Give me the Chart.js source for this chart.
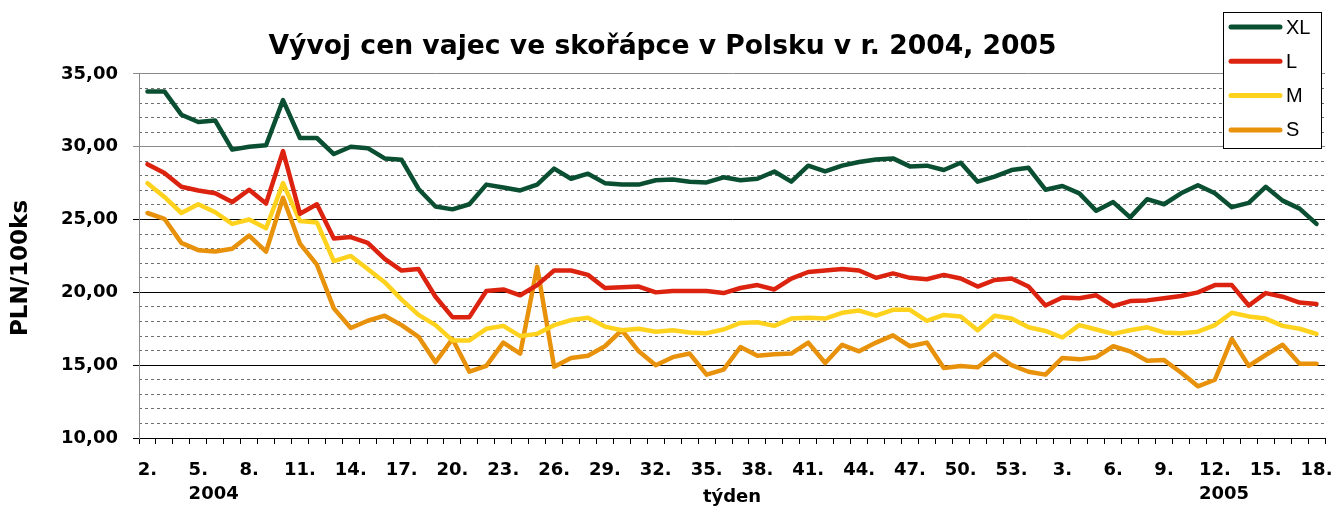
<!DOCTYPE html>
<html><head><meta charset="utf-8">
<script src="https://cdn.jsdelivr.net/npm/chart.js@4.4.0/dist/chart.umd.min.js"></script>
<style>html,body{margin:0;padding:0;background:#fff}#wrap{width:1335px;height:510px}</style>
</head><body><div id="wrap"><canvas id="c" width="1335" height="510"></canvas></div>
<script>
const weeks = ["2.","3.","4.","5.","6.","7.","8.","9.","10.","11.","12.","13.","14.","15.","16.","17.","18.","19.","20.","21.","22.","23.","24.","25.","26.","27.","28.","29.","30.","31.","32.","33.","34.","35.","36.","37.","38.","39.","40.","41.","42.","43.","44.","45.","46.","47.","48.","49.","50.","51.","52.","53.",
"1.","2.","3.","4.","5.","6.","7.","8.","9.","10.","11.","12.","13.","14.","15.","16.","17.","18."];
const yearTickIndex = [3, 63];
const yearTexts = ["2004", "2005"];
const yTickValues = [10, 15, 20, 25, 30, 35];

const seriesNames = ["XL", "L", "M", "S"];
const seriesColors = ["#0a4f31", "#dc2310", "#ffd21e", "#e8920c"];

const XL = [33.8,33.8,32.2,31.7,31.8,29.8,30.0,30.1,33.2,30.6,
30.6,29.5,30.0,29.9,29.2,29.1,27.1,25.9,25.7,26.05,
27.4,27.2,27.0,27.4,28.5,27.8,28.15,27.5,27.4,27.4,
27.7,27.75,27.6,27.55,27.9,27.7,27.8,28.3,27.6,28.7,
28.3,28.7,28.95,29.13,29.2,28.65,28.7,28.4,28.9,27.6,
27.95,28.4,28.55,27.05,27.3,26.8,25.6,26.2,25.15,26.4,
26.05,26.8,27.35,26.8,25.85,26.15,27.25,26.3,25.75,24.7];
const L = [28.8,28.2,27.25,27.0,26.8,26.2,27.05,26.1,29.7,25.4,
26.05,23.7,23.8,23.4,22.3,21.5,21.6,19.7,18.3,18.3,
20.1,20.2,19.8,20.5,21.5,21.5,21.2,20.3,20.35,20.4,
20.0,20.1,20.1,20.1,19.95,20.3,20.5,20.2,20.95,21.4,
21.5,21.6,21.5,21.0,21.3,21.0,20.9,21.2,20.95,20.4,
20.85,20.95,20.4,19.1,19.65,19.6,19.8,19.05,19.4,19.45,
19.6,19.75,20.0,20.5,20.5,19.1,19.95,19.7,19.3,19.2];
const M = [27.5,26.55,25.45,26.05,25.5,24.7,25.0,24.4,27.5,24.9,
24.8,22.15,22.5,21.6,20.7,19.5,18.45,17.75,16.7,16.7,
17.5,17.7,17.0,17.15,17.75,18.1,18.25,17.65,17.4,17.5,
17.3,17.4,17.25,17.2,17.45,17.9,17.95,17.7,18.2,18.25,
18.2,18.6,18.75,18.4,18.8,18.8,18.05,18.45,18.35,17.4,
18.4,18.2,17.6,17.35,16.9,17.75,17.45,17.15,17.4,17.6,
17.25,17.2,17.3,17.75,18.6,18.35,18.2,17.7,17.5,17.15];
const S = [25.45,25.05,23.4,22.9,22.8,23.0,23.9,22.8,26.5,23.35,
21.9,18.9,17.55,18.05,18.4,17.75,16.95,15.2,16.8,14.55,
14.95,16.55,15.8,21.75,14.9,15.5,15.65,16.3,17.4,15.95,
15.0,15.55,15.8,14.35,14.7,16.25,15.65,15.75,15.8,16.55,
15.15,16.4,15.95,16.55,17.05,16.3,16.55,14.8,14.95,14.85,
15.8,15.0,14.55,14.35,15.5,15.4,15.55,16.3,15.95,15.3,
15.35,14.5,13.55,14.0,16.8,14.95,15.7,16.4,15.1,15.1];
const seriesValues = [XL, L, M, S];

const AXIS_FONT = {family: "DejaVu Sans", size: 18, weight: "bold"};

const boxLegend = {
  id: "boxLegend",
  afterDraw(chart) {
    const ctx = chart.ctx, ca = chart.chartArea;
    const bx = ca.right - 102, by = 12, bw = 98, bh = 136;
    ctx.save();
    ctx.fillStyle = "#fff";
    ctx.fillRect(bx, by, bw, bh);
    ctx.strokeStyle = "#000";
    ctx.lineWidth = 1;
    ctx.strokeRect(bx + 0.5, by + 0.5, bw, bh);
    ctx.font = "20px 'Liberation Sans'";
    ctx.textBaseline = "middle";
    ctx.textAlign = "left";
    chart.data.datasets.forEach((ds, i) => {
      const yy = by + 15 + i * 34.3;
      ctx.strokeStyle = ds.borderColor;
      ctx.lineWidth = 5;
      ctx.lineCap = "round";
      ctx.beginPath();
      ctx.moveTo(bx + 8, yy);
      ctx.lineTo(bx + 57, yy);
      ctx.stroke();
      ctx.fillStyle = "#000";
      ctx.fillText(ds.label, bx + 63, yy + 1);
    });
    ctx.restore();
  }
};

const yearLabels = {
  id: "yearLabels",
  afterDraw(chart) {
    const ctx = chart.ctx, xs = chart.scales.x;
    ctx.save();
    ctx.font = "bold 18px 'DejaVu Sans'";
    ctx.fillStyle = "#000";
    ctx.textAlign = "left";
    ctx.textBaseline = "middle";
    yearTickIndex.forEach((idx, k) => {
      const w = ctx.measureText(weeks[idx]).width;
      const x = xs.getPixelForValue(idx) - w / 2;
      ctx.fillText(yearTexts[k], x, xs.top + 56);
    });
    ctx.restore();
  }
};

new Chart(document.getElementById("c"), {
  type: "line",
  data: {
    labels: weeks,
    datasets: seriesNames.map((n, i) => ({
      label: n,
      data: seriesValues[i],
      borderColor: seriesColors[i],
      backgroundColor: seriesColors[i],
      borderWidth: 4.5,
      pointRadius: 0,
      tension: 0,
      borderCapStyle: "round",
      borderJoinStyle: "round",
      fill: false
    }))
  },
  options: {
    responsive: false,
    animation: false,
    devicePixelRatio: 1,
    layout: {padding: {left: 0, right: 10, top: 0, bottom: 0}},
    plugins: {
      legend: {display: false},
      tooltip: {enabled: false},
      title: {
        display: true,
        text: "Vývoj cen vajec ve skořápce v Polsku v r. 2004, 2005",
        font: {family: "DejaVu Sans", size: 26.6, weight: "bold"},
        color: "#000",
        padding: {top: 31, bottom: 11}
      }
    },
    scales: {
      x: {
        type: "category",
        offset: true,
        grid: {display: true, offset: true, drawOnChartArea: false, drawTicks: true, tickLength: 6, tickColor: "#000"},
        border: {display: true, color: "#000", width: 1},
        ticks: {
          autoSkip: false, maxRotation: 0, minRotation: 0, padding: 16,
          color: "#000", font: AXIS_FONT,
          callback: function(v, i) { return i % 3 === 0 ? this.getLabelForValue(v) : ""; }
        },
        title: {display: true, text: "týden", color: "#000", font: AXIS_FONT, padding: {top: 0, bottom: 2}},
        afterFit: s => { s.height = 72; s.paddingLeft = 0; s.paddingRight = 0; }
      },
      y: {
        type: "linear", position: "left", min: 10, max: 35,
        afterBuildTicks: s => { s.ticks = yTickValues.map(v => ({value: v})); },
        grid: {
          color: c => (c.tick && c.tick.value >= 30) ? "#8a8a8a" : "#000",
          lineWidth: 1, drawTicks: true, tickLength: 6
        },
        border: {display: true, color: "#8a8a8a", width: 1},
        ticks: {
          color: "#000", font: AXIS_FONT, padding: 15,
          callback: v => Number(v).toFixed(2).replace(".", ",")
        },
        title: {display: true, text: "PLN/100ks   ", color: "#000", font: {family: "DejaVu Sans", size: 23, weight: "bold"}, padding: {top: 7, bottom: 0}},
        afterFit: s => { s.width = 139; }
      },
      yMinor: {
        type: "linear", position: "left", min: 10, max: 35,
        ticks: {display: false, stepSize: 1, maxTicksLimit: 100},
        grid: {
          color: c => (c.tick && c.tick.value % 5 === 0) ? "rgba(0,0,0,0)" : "#6e6e6e",
          lineWidth: 1, drawTicks: false
        },
        border: {display: false, dash: [3, 3]},
        afterFit: s => { s.width = 0; }
      }
    }
  },
  plugins: [boxLegend, yearLabels]
});
</script>
</body></html>
